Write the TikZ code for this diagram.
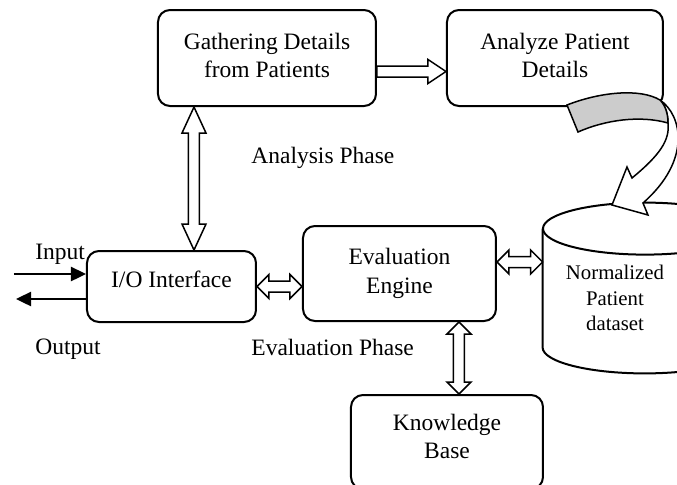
\documentclass[tikz,border=0pt]{standalone}
\usepackage{fontspec}
\setmainfont{Liberation Serif}
\usepackage{tikz}
\usetikzlibrary{arrows.meta,calc}
\tikzstyle{phase}=[rectangle, draw, line width=1pt, rounded corners=6pt,
        fill=white, align=center, inner sep=0pt,
        font=\fontsize{11.75}{14}\selectfont]
\tikzstyle{caption}=[inner sep=0pt, anchor=base west,
        font=\fontsize{11.75}{14}\selectfont]
\tikzstyle{fat}=[draw, fill=white, line width=0.75pt, line join=miter]
\tikzstyle{sigline}=[-{Triangle[length=7.5pt,width=7pt]}, line width=1.2pt]
\tikzstyle{ribbon}=[draw, line width=0.75pt, line join=miter]

% hollow block arrows between two points
\newcommand{\twoway}[3]{%
  \draw[fat] let \p1=#2, \p2=#3,
      \n1={atan2(\y2-\y1,\x2-\x1)}, \n2={veclen(\x2-\x1,\y2-\y1)} in
    [shift={(\p1)}, rotate=\n1]
    (0pt,0pt) -- (#1pt,6pt) -- (#1pt,2.75pt) -- ({(\n2-#1)*1pt},2.75pt)
    -- ({(\n2-#1)*1pt},6pt) -- ({\n2*1pt},0pt) -- ({(\n2-#1)*1pt},-6pt)
    -- ({(\n2-#1)*1pt},-2.75pt) -- (#1pt,-2.75pt) -- (#1pt,-6pt) -- cycle;}
\newcommand{\oneway}[3]{%
  \draw[fat] let \p1=#2, \p2=#3,
      \n1={atan2(\y2-\y1,\x2-\x1)}, \n2={veclen(\x2-\x1,\y2-\y1)} in
    [shift={(\p1)}, rotate=\n1]
    (0pt,2.75pt) -- ({(\n2-#1)*1pt},2.75pt) -- ({(\n2-#1)*1pt},6pt)
    -- ({\n2*1pt},0pt) -- ({(\n2-#1)*1pt},-6pt) -- ({(\n2-#1)*1pt},-2.75pt)
    -- (0pt,-2.75pt) -- cycle;}

\begin{document}
\begin{tikzpicture}[x=0.5pt, y=-0.5pt]
  \useasboundingbox (0,0) rectangle (677,484);
  \clip (0,0) rectangle (677,484);
  % Place nodes
  \node [phase, minimum width=109pt, minimum height=48pt, text depth=2.5pt] (gather) at (267,58) {Gathering Details\\from Patients};
  \node [phase, minimum width=108pt, minimum height=48pt, text depth=2.5pt] (analyze) at (555,58) {Analyze Patient\\Details};
  \node [phase, minimum width=84.5pt, minimum height=35.5pt, text depth=7.6pt] (io) at (171.5,286.5) {I/O Interface};
  \node [phase, minimum width=96.5pt, minimum height=47.5pt, font=\fontsize{11.75}{14.5}\selectfont] (eval) at (399.5,273.5) {Evaluation\\Engine};
  \node [phase, minimum width=96pt, minimum height=47pt, text depth=6pt] (kb) at (447,442) {Knowledge\\Base};
  \node [minimum width=102pt, minimum height=85pt, inner sep=0pt] (data) at (645,288) {};
  \draw [line width=1pt, fill=white] ([yshift=-13pt]data.north west) -- ([yshift=13pt]data.south west)
    arc [start angle=180, end angle=360, x radius=51pt, y radius=13pt] -- ([yshift=-13pt]data.north east);
  \draw [line width=1pt] ([yshift=-13pt]data.north) ellipse [x radius=51pt, y radius=13pt];
  \node [align=center, inner sep=0pt, font=\fontsize{10.4}{12.75}\selectfont] (datalabel) at (615,298) {Normalized\\Patient\\dataset};
  \node [caption] (inlbl) at (35,259) {Input};
  \node [caption] (outlbl) at (35,354) {Output};
  \node [caption] (anlbl) at (251,163) {Analysis Phase};
  \node [caption] (evlbl) at (251,355) {Evaluation Phase};
  \coordinate (insrc) at (14,274);
  \coordinate (outdst) at (16,299);
  \coordinate (gio) at ([xshift=18.5pt]gather.south west);
  \coordinate (gan) at ([yshift=-6.75pt]gather.east);
  \coordinate (edb) at ([yshift=5.75pt]eval.east);
  \coordinate (ekb) at ([xshift=29.75pt]eval.south);
  % Draw edges
  \draw [sigline] (insrc) -- (insrc -| io.west);
  \draw [sigline] (outdst -| io.west) -- (outdst);
  \twoway{13}{(gio)}{(gio |- io.north)}
  \oneway{9}{(gan)}{(gan -| analyze.west)}
  \twoway{6}{(io.east)}{(io.east -| eval.west)}
  \twoway{6}{(edb)}{(edb -| data.west)}
  \twoway{6}{(ekb)}{(ekb |- kb.north)}
  % curved arrow into the dataset
  \path [ribbon, fill=white] (660,100) .. controls (682,115) and (692,160) .. (643,203)
    -- (648,215) -- (612,205) -- (627,167) -- (632,178)
    .. controls (660,155) and (670,140) .. (668,123)
    .. controls (668,115) and (666,106) .. (660,100) -- cycle;
  \path [ribbon, fill=gray!40] (567,105) .. controls (600,92) and (640,88) .. (660,100)
    .. controls (666,106) and (668,115) .. (668,123)
    .. controls (640,115) and (605,120) .. (578,132) -- cycle;
\end{tikzpicture}
\end{document}
